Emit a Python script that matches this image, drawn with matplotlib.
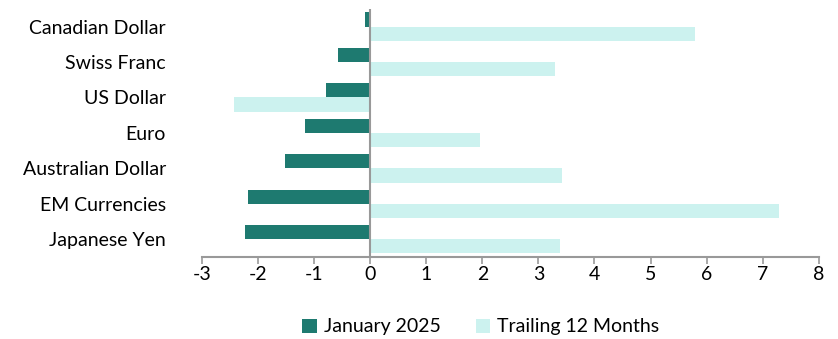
import matplotlib
matplotlib.use("Agg")
import matplotlib.pyplot as plt
import numpy as np

plt.rcParams['font.family'] = ['Lato', 'DejaVu Sans']

currencies = ["Canadian Dollar", "Swiss Franc", "US Dollar", "Euro",
              "Australian Dollar", "EM Currencies", "Japanese Yen"]
january_2025 = [-0.09, -0.58, -0.78, -1.17, -1.52, -2.17, -2.24]
trailing_12m = [5.79, 3.30, -2.42, 1.96, 3.42, 7.29, 3.38]
x_ticks = [-3, -2, -1, 0, 1, 2, 3, 4, 5, 6, 7, 8]

dark = "#1E7A70"
light = "#CCF2EF"
axis_grey = "#999999"

fig = plt.figure(figsize=(8.38, 3.39), dpi=100)
ax = fig.add_axes([0.241, 0.243, 0.736, 0.730])

y = np.arange(len(currencies))[::-1].astype(float)
h = 0.4
ax.barh(y + h / 2, january_2025, height=h, color=dark, label="January 2025")
ax.barh(y - h / 2, trailing_12m, height=h, color=light, label="Trailing 12 Months")

ax.set_xlim(-3, 8)
ax.set_ylim(-0.49, 6.49)
ax.set_xticks(x_ticks)
ax.set_xticklabels([str(t) for t in x_ticks], fontsize=14)
ax.set_yticks(y)
ax.set_yticklabels(currencies, fontsize=14)

ax.axvline(0, color=axis_grey, lw=1.5, zorder=3)
for s in ["top", "right", "left"]:
    ax.spines[s].set_visible(False)
ax.spines["bottom"].set_color(axis_grey)
ax.spines["bottom"].set_linewidth(1.5)
ax.tick_params(axis="x", direction="out", length=5, width=1.2, color=axis_grey, pad=2)
ax.tick_params(axis="y", length=0, pad=26)

ax.legend(loc="center", bbox_to_anchor=(0.452, -0.284), ncol=2, frameon=False,
          fontsize=14, handlelength=0.75, handleheight=0.75, handletextpad=0.35,
          columnspacing=1.8)

fig.savefig("out.png", dpi=100)
